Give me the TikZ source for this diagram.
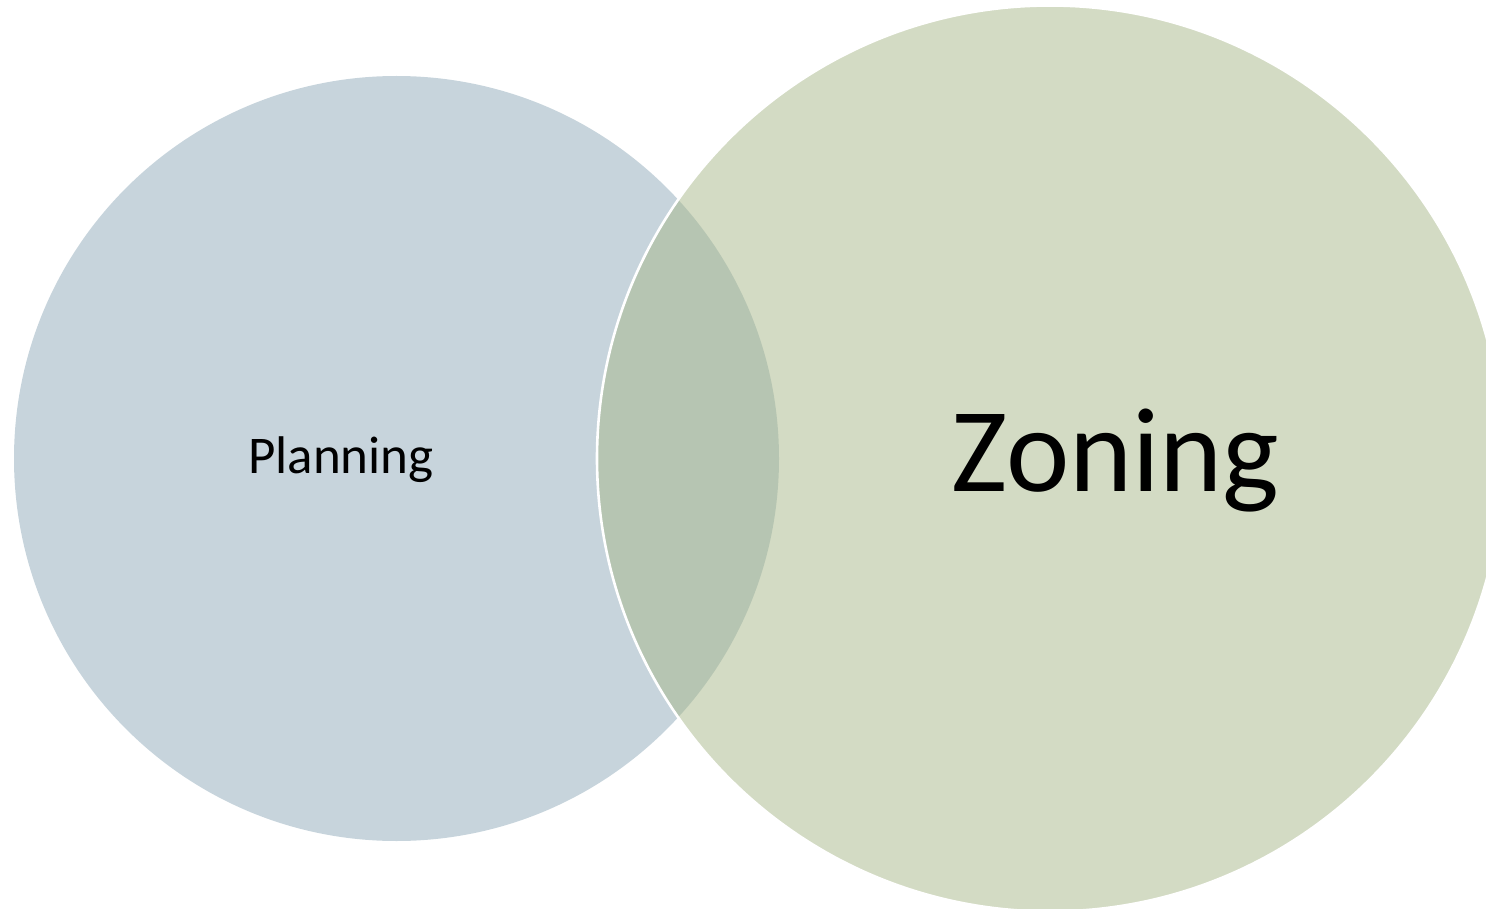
\documentclass[tikz,border=0pt]{standalone}
\usepackage{fontspec}
\setmainfont{Carlito}
\definecolor{leftblue}{HTML}{C7D4DC}
\definecolor{rightgreen}{HTML}{A7B789}
\begin{document}
\begin{tikzpicture}[x=1pt,y=-1pt,
  lbl/.style={anchor=base, inner sep=0pt, text=black}]
\useasboundingbox (0,0) rectangle (1486,909);
\clip (0,0) rectangle (1486,909);
\coordinate (lc) at (396.5,458.5);
\coordinate (rc) at (1050,458.5);
\fill[leftblue] (lc) circle[radius=382.5];
\draw[white, line width=2.6pt, fill=rightgreen, fill opacity=0.5] (rc) circle[radius=453];
\node[lbl, font=\fontsize{53}{60}\selectfont] (planning) at (341,473) {Planning};
\node[lbl, font=\fontsize{120}{130}\selectfont] (zoning) at (1115.5,491.7) {Zoning};
\end{tikzpicture}
\end{document}
